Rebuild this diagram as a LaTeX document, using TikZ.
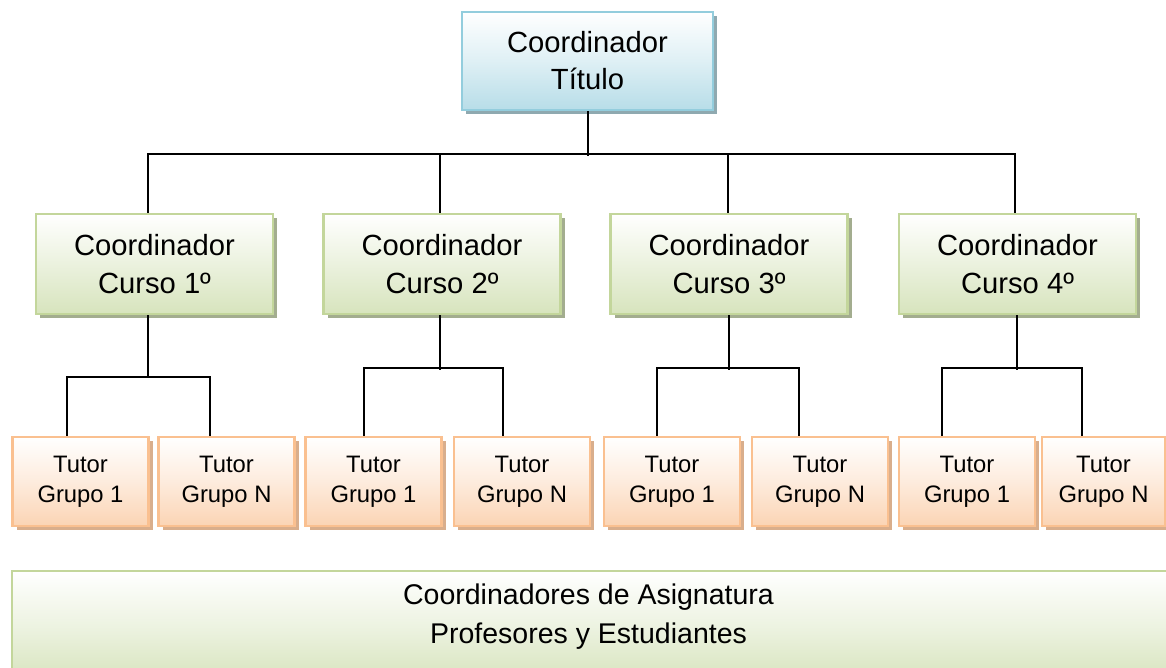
\documentclass[tikz,border=0pt]{standalone}
\usepackage{fontspec}
\setmainfont{Liberation Sans}
\usetikzlibrary{shadows,calc}
\definecolor{bluefill}{HTML}{B7DDE8}
\definecolor{blueline}{HTML}{93CDDD}
\definecolor{blueshadow}{HTML}{8FA9B0}
\definecolor{greenfill}{HTML}{D7E4BD}
\definecolor{greenline}{HTML}{C3D69B}
\definecolor{greenshadow}{HTML}{A3AD8F}
\definecolor{orangefill}{HTML}{FBD4B4}
\definecolor{orangeline}{HTML}{FAC090}
\definecolor{orangeshadow}{HTML}{D9AE8C}
\tikzset{
  box/.style={rectangle, line width=2.2pt, align=center, inner sep=0pt},
  topbox/.style={box, draw=blueline, top color=white, bottom color=bluefill,
    middle color=bluefill!45,
    drop shadow={shadow xshift=4pt, shadow yshift=-4pt, fill=blueshadow, opacity=1},
    minimum width=251pt, minimum height=98pt,
    font=\fontsize{29.2}{37}\selectfont},
  coursebox/.style={box, draw=greenline, top color=white, bottom color=greenfill,
    middle color=greenfill!50,
    drop shadow={shadow xshift=4pt, shadow yshift=-4pt, fill=greenshadow, opacity=1},
    minimum width=237pt, minimum height=100pt,
    font=\fontsize{29.2}{38}\selectfont},
  tutorbox/.style={box, draw=orangeline, top color=white, bottom color=orangefill,
    middle color=orangefill!45,
    drop shadow={shadow xshift=4pt, shadow yshift=-4pt, fill=orangeshadow, opacity=1},
    minimum width=136pt, minimum height=89pt,
    font=\fontsize{23.8}{30}\selectfont},
  botbox/.style={box, draw=greenline, top color=white, bottom color=greenfill,
    middle color=greenfill!45,
    minimum width=1170pt, minimum height=110pt},
  bottext/.style={align=center, font=\fontsize{28.5}{39}\selectfont, inner sep=0pt},
  conn/.style={draw=black, line width=2pt}
}
\begin{document}
\begin{tikzpicture}[x=1pt,y=-1pt]
\useasboundingbox (0,0) rectangle (1166,668);
\clip (0,0) rectangle (1166,668);

% top
\node[topbox] (top) at (587.5,61) {Coordinador\\Título};

% courses
\node[coursebox] (c1) at (154.5,264) {Coordinador\\Curso 1º};
\node[coursebox] (c2) at (442,264) {Coordinador\\Curso 2º};
\node[coursebox] (c3) at (729,264) {Coordinador\\Curso 3º};
\node[coursebox] (c4) at (1017.5,264) {Coordinador\\Curso 4º};

% tutors
\node[tutorbox] (t1) at (80.5,481.5) {Tutor\\Grupo 1};
\node[tutorbox] (t2) at (226.5,481.5) {Tutor\\Grupo N};
\node[tutorbox] (t3) at (373.5,481.5) {Tutor\\Grupo 1};
\node[tutorbox] (t4) at (522,481.5) {Tutor\\Grupo N};
\node[tutorbox] (t5) at (672,481.5) {Tutor\\Grupo 1};
\node[tutorbox] (t6) at (820,481.5) {Tutor\\Grupo N};
\node[tutorbox] (t7) at (967,481.5) {Tutor\\Grupo 1};
\node[tutorbox, minimum width=123pt] (t8) at (1103.5,481.5) {Tutor\\Grupo N};

% bottom
\node[botbox] (bot) at (597,626) {};
\node[bottext] (bottxt) at (588.5,617) {Coordinadores de Asignatura\\Profesores y Estudiantes};

% connectors top level
\draw[conn] ($(top.south)+(0.5,0)$) -- ++(0,45);
\draw[conn] ($(c1.north)+(-6.5,0)$) -- ++(0,-59) -| ($(c4.north)+(-2.5,0)$);
\draw[conn] ($(c2.north)+(-2,0)$) -- ++(0,-59);
\draw[conn] ($(c3.north)+(-1,0)$) -- ++(0,-59);

% course 1
\draw[conn] ($(c1.south)+(-6.5,0)$) -- ++(0,63);
\draw[conn] ($(t1.north)+(-13.5,0)$) -- ++(0,-59) -| ($(t2.north)+(-16.5,0)$);
% course 2
\draw[conn] ($(c2.south)+(-2,0)$) -- ++(0,55);
\draw[conn] ($(t3.north)+(-9.5,0)$) -- ++(0,-68) -| ($(t4.north)+(-19,0)$);
% course 3
\draw[conn] (c3.south) -- ++(0,55);
\draw[conn] ($(t5.north)+(-15,0)$) -- ++(0,-68) -| ($(t6.north)+(-21,0)$);
% course 4
\draw[conn] ($(c4.south)+(-0.5,0)$) -- ++(0,55);
\draw[conn] ($(t7.north)+(-25,0)$) -- ++(0,-68) -| ($(t8.north)+(-21.5,0)$);
\end{tikzpicture}
\end{document}
